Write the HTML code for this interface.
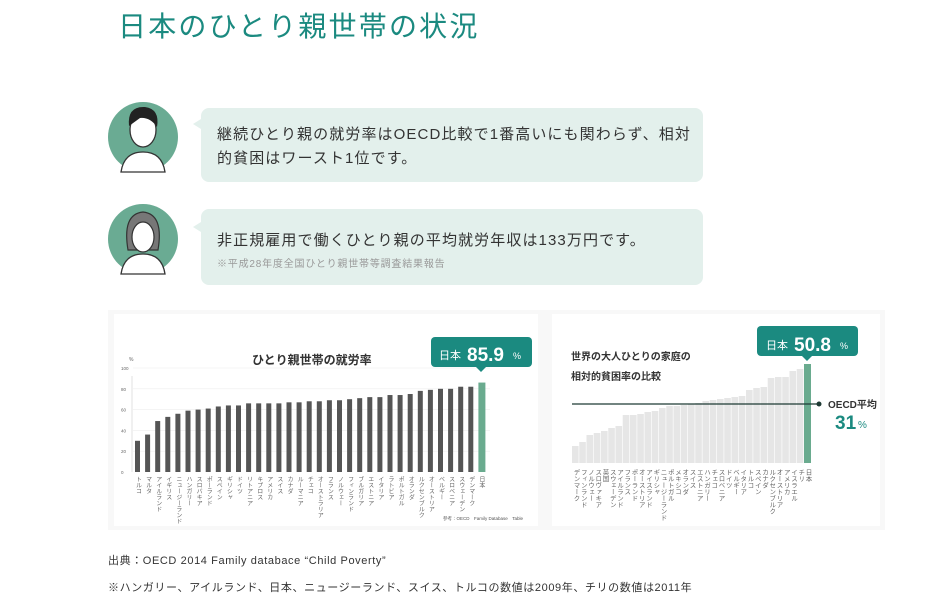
<!DOCTYPE html>
<html><head><meta charset="utf-8"><style>
body{margin:0;background:#fff;width:938px;height:600px;overflow:hidden;font-family:"Liberation Sans","Noto Sans CJK JP",sans-serif}
svg text{font-family:"Liberation Sans","Noto Sans CJK JP",sans-serif}
.v{writing-mode:vertical-rl;}
</style></head><body>
<svg id="s" width="938" height="600" xmlns="http://www.w3.org/2000/svg">
<text x="118" y="36" font-size="28" fill="#1b8a80" letter-spacing="2.2">日本のひとり親世帯の状況</text>
<!-- avatars -->
<circle cx="143" cy="137" r="35" fill="#6aab93"/>
<path d="M121 172 Q124 152 143 152 Q162 152 165 172 Z" fill="#fff" stroke="#333" stroke-width="1.3"/>
<ellipse cx="143" cy="130" rx="13" ry="17" fill="#fff" stroke="#333" stroke-width="1.3"/>
<path d="M129 126 Q127 106 145 107 Q160 109 157 127 Q150 117 140 118 Z" fill="#222"/>
<circle cx="143" cy="239" r="35" fill="#6aab93"/>
<path d="M121 274 Q124 254 143 254 Q162 254 165 274 Z" fill="#fff" stroke="#333" stroke-width="1.3"/>
<path d="M128 250 Q122 214 143 212 Q164 214 158 250 Z" fill="#777" stroke="#333" stroke-width="1.2"/>
<ellipse cx="143" cy="237" rx="11" ry="15" fill="#fff" stroke="#333" stroke-width="1.2"/>
<!-- bubbles -->
<rect x="201" y="108" width="502" height="74" rx="8" fill="#e3f0ec"/>
<path d="M201 119 L193 124 L201 129Z" fill="#e3f0ec"/>
<text x="217" y="139" font-size="15" fill="#333" letter-spacing="1.1">継続ひとり親の就労率はOECD比較で1番高いにも関わらず、相対</text>
<text x="217" y="163" font-size="15" fill="#333" letter-spacing="1.1">的貧困はワースト1位です。</text>
<rect x="201" y="209" width="502" height="76" rx="8" fill="#e3f0ec"/>
<path d="M201 222 L193 227 L201 232Z" fill="#e3f0ec"/>
<text x="217" y="245" font-size="15" fill="#333" letter-spacing="1.1">非正規雇用で働くひとり親の平均就労年収は133万円です。</text>
<text x="217" y="267" font-size="10" fill="#999" letter-spacing="0.8">※平成28年度全国ひとり親世帯等調査結果報告</text>
<!-- panel -->
<rect x="108" y="310" width="777" height="220" fill="#f8f8f8"/>
<rect x="114" y="314" width="424" height="212" fill="#fff"/>
<rect x="552" y="314" width="328" height="212" fill="#fff"/>
<g id="L"></g><g id="R"></g>
<text x="129" y="361" font-size="5" fill="#666">%</text>
<text x="252" y="364" font-size="12" font-weight="bold" fill="#333">ひとり親世帯の就労率</text>
<rect x="431" y="337" width="101" height="30" rx="4" fill="#1b8a80"/>
<path d="M476 367 L481 372 L486 367Z" fill="#1b8a80"/>
<text x="439" y="359" font-size="11" fill="#fff">日本</text>
<text x="467" y="361" font-size="19" font-weight="bold" fill="#fff">85.9</text>
<text x="513" y="359" font-size="9" fill="#fff">%</text>
<text x="443" y="520" font-size="4.5" fill="#555">参考：OECD　Family Database　Table</text>
<text x="571" y="360" font-size="10" font-weight="bold" fill="#333">世界の大人ひとりの家庭の</text>
<text x="571" y="380" font-size="10" font-weight="bold" fill="#333">相対的貧困率の比較</text>
<rect x="757" y="326" width="101" height="30" rx="4" fill="#1b8a80"/>
<path d="M802 356 L807 361 L812 356Z" fill="#1b8a80"/>
<text x="766" y="349" font-size="11" fill="#fff">日本</text>
<text x="794" y="351" font-size="19" font-weight="bold" fill="#fff">50.8</text>
<text x="840" y="349" font-size="9" fill="#fff">%</text>
<line x1="572" y1="404" x2="819" y2="404" stroke="#1e3a34" stroke-width="1.2"/>
<circle cx="819" cy="404" r="2.5" fill="#1e3a34"/>
<text x="828" y="408" font-size="10" font-weight="bold" fill="#333">OECD平均</text>
<text x="835" y="429" font-size="19" font-weight="bold" fill="#1b8a80">31</text>
<text x="858" y="428" font-size="10" fill="#1b8a80">%</text>
<text x="108" y="564" font-size="11" fill="#333" letter-spacing="0.6">出典：OECD 2014 Family databace “Child Poverty”</text>
<text x="108" y="591" font-size="11" fill="#333" letter-spacing="0.6">※ハンガリー、アイルランド、日本、ニュージーランド、スイス、トルコの数値は2009年、チリの数値は2011年</text>
</svg>
<script>
var NS="http://www.w3.org/2000/svg";
function el(p,t,a,txt){var e=document.createElementNS(NS,t);for(var k in a)e.setAttribute(k,a[k]);if(txt)e.textContent=txt;p.appendChild(e);return e;}
var L=document.getElementById("L"),R=document.getElementById("R");
var base=472,sc=1.04;
for(var v=0;v<=100;v+=20){var y=base-v*sc;if(v>0)el(L,"line",{x1:133,x2:490,y1:y,y2:y,stroke:"#eee","stroke-width":0.6});el(L,"text",{x:121,y:y+2,"font-size":4.5,fill:"#666"},v==100?"100":String(v));}
el(L,"line",{x1:132,x2:132,y1:376,y2:472,stroke:"#ccc","stroke-width":0.6});
var lv=[30,36,49,53,56,59,60,61,63,64,64,66,66,66,66,67,67,68,68,69,69,70,71,72,72,74,74,75,78,79,80,80,82,82,86];
var ln="トルコ,マルタ,アイルランド,イギリス,ニュージーランド,ハンガリー,スロバキア,ポーランド,スペイン,ギリシャ,ドイツ,リトアニア,キプロス,アメリカ,スイス,カナダ,ルーマニア,チェコ,オーストラリア,フランス,ノルウェー,フィンランド,ブルガリア,エストニア,イタリア,ラトビア,ポルトガル,オランダ,ルクセンブルク,オーストリア,ベルギー,スロベニア,スウェーデン,デンマーク,日本".split(",");
for(var i=0;i<35;i++){var x=135+i*10.1,h=lv[i]*sc,j=i==34;
el(L,"rect",{x:x,y:base-h,width:j?7:5,height:h,fill:j?"#6aab8f":"#555"});
el(L,"text",{x:x+2.5,y:476,"font-size":6,fill:"#666","class":"v"},ln[i]);}
var rh=[17,21,28,30,32,35,37,48,48,49,51,52,55,57,57,58,59,60,62,63,64,65,66,67,73,75,76,85,86,86,92,94,99];
var rn="デンマーク,フィンランド,ノルウェー,スロヴァキア,英国,スウェーデン,アイルランド,フランス,ポーランド,オーストリア,アイスランド,ギリシャ,ニュージーランド,ポルトガル,メキシコ,オランダ,スイス,エストニア,ハンガリー,チェコ,スロベニア,ドイツ,ベルギー,イタリア,トルコ,スペイン,カナダ,ルクセンブルク,オーストリア,アメリカ,イスラエル,チリ,日本".split(",");
for(var i=0;i<33;i++){var x=572+i*7.25,j=i==32;
el(R,"rect",{x:x,y:463-rh[i],width:j?7:6.6,height:rh[i],fill:j?"#6aab8f":"#e6e6e6"});
el(R,"text",{x:x+3.5,y:469,"font-size":6.5,fill:"#666","class":"v"},rn[i]);}
</script>
</body></html>
